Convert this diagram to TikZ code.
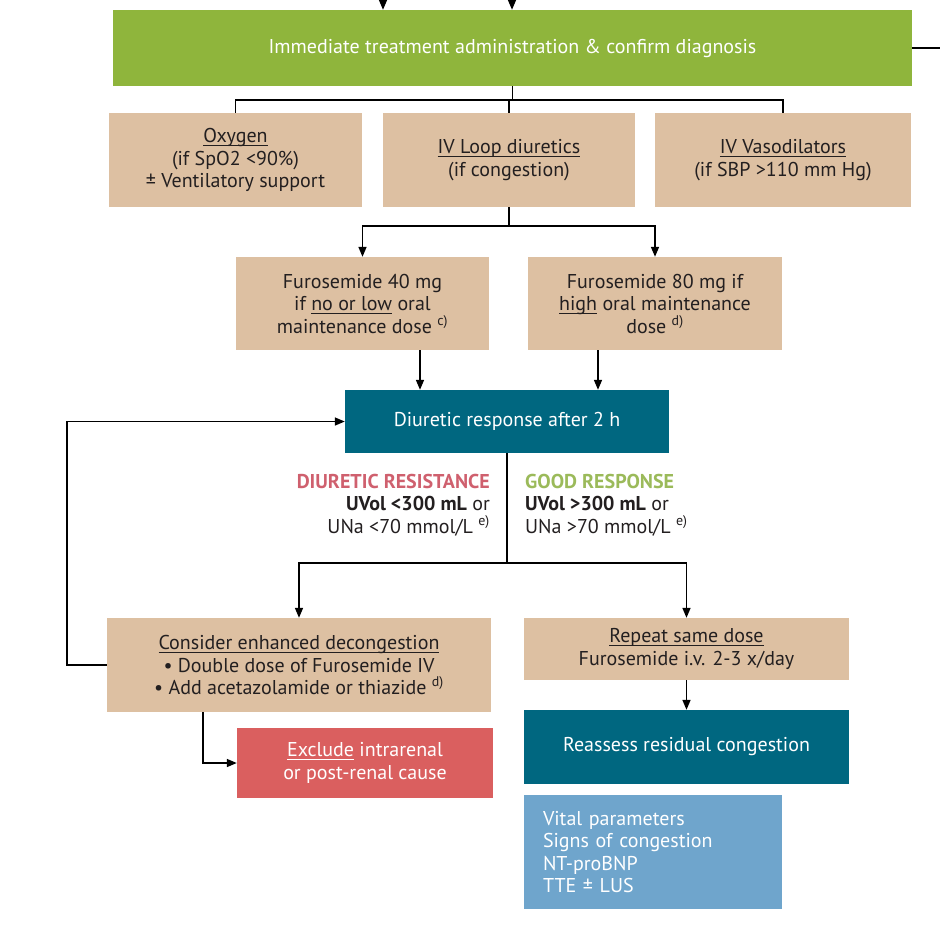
\documentclass[tikz,border=0pt]{standalone}
\usepackage{fontspec}
\setmainfont{PT Sans}
\usetikzlibrary{arrows.meta}
\definecolor{grn}{RGB}{143,181,60}
\definecolor{tan}{RGB}{221,192,162}
\definecolor{teal}{RGB}{0,103,128}
\definecolor{redbox}{RGB}{218,95,95}
\definecolor{lblue}{RGB}{111,165,204}
\definecolor{labred}{RGB}{207,96,110}
\definecolor{labgrn}{RGB}{155,186,90}
\definecolor{ink}{RGB}{35,31,32}
\newcommand{\ulx}[1]{\leavevmode\setbox0=\hbox{#1}\rlap{\rule[-3pt]{\wd0}{0.8pt}}\box0\relax}
\tikzset{
  box/.style={draw=none, inner sep=2pt, align=center, font=\fontsize{20}{22.5}\selectfont},
  tanbox/.style={box, fill=tan, text=ink},
  grnbox/.style={box, fill=grn, text=white},
  tealbox/.style={box, fill=teal, text=white},
  redbx/.style={box, fill=redbox, text=white},
  bluebox/.style={box, fill=lblue, text=white, align=left},
  lbl/.style={inner sep=0pt, text=ink, font=\fontsize{20}{22.5}\selectfont},
  conn/.style={line width=1.6pt, draw=black},
  arr/.style={conn, -{Triangle[length=10pt,width=8pt]}},
}
\begin{document}
\begin{tikzpicture}[x=1pt,y=-1pt]
\useasboundingbox (0,0) rectangle (940,927);
\node[grnbox, minimum width=799, minimum height=76] (green) at (512.5,48) {Immediate treatment administration \& confirm diagnosis};
\node[tanbox, minimum width=253, minimum height=94] (oxy) at (235.5,160) {\ulx{Oxygen}\\(if SpO2 <90\%)\\± Ventilatory support};
\node[tanbox, minimum width=252, minimum height=94] (loop) at (509,160) {\ulx{IV Loop diuretics}\\(if congestion)};
\node[tanbox, minimum width=256, minimum height=94] (vaso) at (783,160) {\ulx{IV Vasodilators}\\(if SBP >110 mm Hg)};
\node[tanbox, minimum width=253, minimum height=93] (f40) at (362.5,303.5) {Furosemide 40 mg\\if \ulx{no or low} oral\\maintenance dose~\textsuperscript{c)}};
\node[tanbox, minimum width=254, minimum height=93] (f80) at (655,303.5) {Furosemide 80 mg if\\\ulx{high} oral maintenance\\dose~\textsuperscript{d)}};
\node[tealbox, minimum width=324, minimum height=63] (diur) at (507,421.5) {Diuretic response after 2 h};
\node[lbl, anchor=north east, align=right] (res) at (490,474) {{\color{labred}\bfseries DIURETIC RESISTANCE}\\\textbf{UVol <300 mL} or\\UNa <70 mmol/L~\textsuperscript{e)}};
\node[lbl, anchor=north west, align=left] (good) at (525,474) {{\color{labgrn}\bfseries GOOD RESPONSE}\\\textbf{UVol >300 mL} or\\UNa >70 mmol/L~\textsuperscript{e)}};
\node[tanbox, minimum width=384, minimum height=94] (cons) at (299,665) {\ulx{Consider enhanced decongestion}\\• Double dose of Furosemide IV\\• Add acetazolamide or thiazide~\textsuperscript{d)}};
\node[tanbox, minimum width=325, minimum height=62] (rep) at (686.5,649) {\ulx{Repeat same dose}\\Furosemide i.v. 2-3 x/day};
\node[redbx, minimum width=256, minimum height=70] (excl) at (365,763) {\ulx{Exclude} intrarenal\\or post-renal cause};
\node[tealbox, minimum width=325, minimum height=74] (reas) at (686.5,747) {Reassess residual congestion};
\node[bluebox, minimum width=258, minimum height=114, text width=220, inner xsep=19] (vital) at (653,852) {Vital parameters\\Signs of congestion\\NT-proBNP\\TTE ± LUS};
% connectors
\coordinate (in1) at (383,0);
\coordinate (in2) at (512,0);
\coordinate (out1) at (940,48);
\draw[arr] (in1) -- (in1 |- green.north);
\draw[arr] (in2) -- (in2 |- green.north);
\draw[conn] (green.east) -- (out1);
\coordinate (s1) at (512.5,100);
\draw[conn] (green.south) -- (s1);
\draw[conn] (s1) -| (oxy.north);
\draw[conn] (s1) -| (vaso.north);
\draw[conn] (s1 -| loop.north) -- (loop.north);
\coordinate (s2) at (509,226);
\draw[conn] (loop.south) -- (s2);
\draw[arr] (s2) -| (f40.north);
\draw[arr] (s2) -| (f80.north);
\draw[arr] ([xshift=57.5pt]f40.south) -- ([xshift=57.5pt]f40.south |- diur.north);
\draw[arr] ([xshift=-57pt]f80.south) -- ([xshift=-57pt]f80.south |- diur.north);
\coordinate (s3) at (507,563);
\draw[conn] (diur.south) -- (s3);
\draw[arr] (s3) -| (cons.north);
\draw[arr] (s3) -| (rep.north);
\draw[arr] (cons.west) -- ++(-40,0) |- (diur.west);
\draw[arr] ([xshift=-96pt]cons.south) |- (excl.west);
\draw[arr] (rep.south) -- (reas.north);
\end{tikzpicture}
\end{document}
